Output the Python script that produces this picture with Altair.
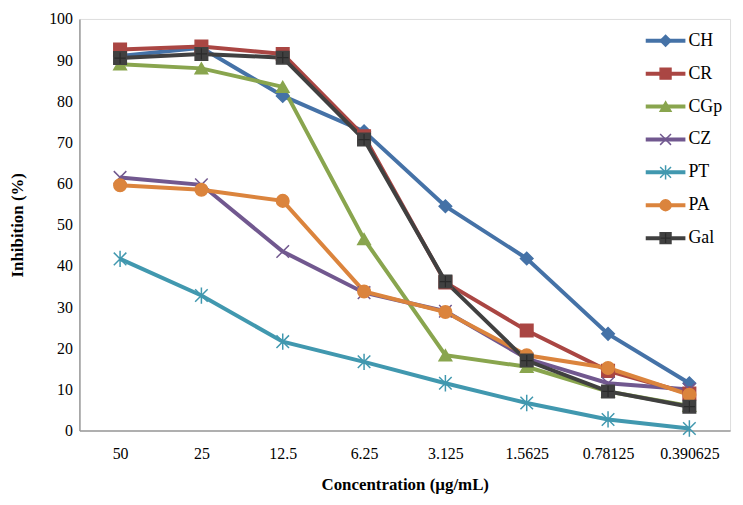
import altair as alt
import pandas as pd

concentrations = ["50", "25", "12.5", "6.25", "3.125", "1.5625", "0.78125", "0.390625"]
series_names = ["CH", "CR", "CGp", "CZ", "PT", "PA", "Gal"]
CH = [91.0, 93.0, 81.3, 72.7, 54.5, 41.8, 23.5, 11.5]
CR = [92.6, 93.3, 91.5, 71.5, 36.0, 24.3, 14.5, 9.0]
CGp = [89.0, 88.0, 83.5, 46.5, 18.3, 15.5, 9.5, 6.0]
CZ = [61.5, 59.7, 43.5, 33.5, 29.0, 17.5, 11.5, 10.0]
PT = [41.7, 32.8, 21.6, 16.7, 11.5, 6.7, 2.7, 0.5]
PA = [59.6, 58.5, 55.8, 33.8, 28.8, 18.3, 15.2, 8.7]
Gal = [90.5, 91.5, 90.6, 70.7, 36.2, 17.0, 9.5, 5.8]

colors = ["#4572A7", "#AA4643", "#89A54E", "#71588F", "#4198AF", "#DB843D", "#404040"]
shapes = ["diamond", "square", "triangle-up",
          "M-1,-1L1,1M-1,1L1,-1",
          "M-1,-1L1,1M-1,1L1,-1M0,-1.3L0,1.3",
          "circle", "square"]

values = dict(CH=CH, CR=CR, CGp=CGp, CZ=CZ, PT=PT, PA=PA, Gal=Gal)
rows = []
for s in series_names:
    for c, v in zip(concentrations, values[s]):
        rows.append({"series": s, "conc": c, "value": v})
df = pd.DataFrame(rows)
leg = pd.DataFrame({"series": series_names})

FONT = "'Liberation Serif', 'Times New Roman', serif"
color_scale = alt.Scale(domain=series_names, range=colors)
shape_scale = alt.Scale(domain=series_names, range=shapes)

x = alt.X("conc:N", sort=concentrations,
          scale=alt.Scale(type="point", padding=0.5),
          axis=alt.Axis(title="Concentration (µg/mL)", labelAngle=0, ticks=False,
                        domainColor="#9a9a9a", domainWidth=1.5, labelPadding=15,
                        titlePadding=15, labelFontSize=16, titleFontSize=17,
                        labelFont=FONT, titleFont=FONT, labelColor="black",
                        titleColor="black", titleFontWeight="bold", grid=False))
y = alt.Y("value:Q", scale=alt.Scale(domain=[0, 100], nice=False),
          axis=alt.Axis(title="Inhibition (%)", values=list(range(0, 101, 10)), ticks=False,
                        domainColor="#9a9a9a", domainWidth=1.5, labelPadding=7,
                        titlePadding=22, labelFontSize=16, titleFontSize=17,
                        labelFont=FONT, titleFont=FONT, labelColor="black",
                        titleColor="black", titleFontWeight="bold", grid=False))

base = alt.Chart(df)
lines = base.mark_line(strokeWidth=4).encode(
    x=x, y=y,
    color=alt.Color("series:N", scale=color_scale, legend=None),
    detail="series:N",
)
points = base.mark_point(filled=True, size=160, strokeWidth=1.5, opacity=1).encode(
    x=x, y=y,
    fill=alt.Fill("series:N", scale=color_scale, legend=None),
    stroke=alt.Stroke("series:N", scale=color_scale, legend=None),
    shape=alt.Shape("series:N", scale=shape_scale, legend=None),
)
gal_plus = alt.Chart(df[df.series == "Gal"]).mark_point(
    shape="M-1,0L1,0M0,-1L0,1", size=130, stroke="#222222", strokeWidth=1.2, filled=False
).encode(x=x, y=y)

ly = alt.Y("series:N", scale=alt.Scale(type="point", domain=series_names, range=[22, 221], padding=0),
           axis=None)
leg_base = alt.Chart(leg)
leg_lines = leg_base.mark_rule(strokeWidth=4).encode(
    y=ly, x=alt.value(571), x2=alt.value(611),
    color=alt.Color("series:N", scale=color_scale, legend=None),
)
leg_points = leg_base.mark_point(filled=True, size=120, strokeWidth=1.5, opacity=1).encode(
    y=ly, x=alt.value(591),
    fill=alt.Fill("series:N", scale=color_scale, legend=None),
    stroke=alt.Stroke("series:N", scale=color_scale, legend=None),
    shape=alt.Shape("series:N", scale=shape_scale, legend=None),
)
leg_plus = alt.Chart(leg[leg.series == "Gal"]).mark_point(
    shape="M-1,0L1,0M0,-1L0,1", size=100, stroke="#222222", strokeWidth=1.2, filled=False
).encode(y=ly, x=alt.value(591))
leg_text = leg_base.mark_text(align="left", baseline="middle", font=FONT, fontSize=18,
                              color="black", dx=0).encode(
    y=ly, x=alt.value(614), text="series:N")

data_layer = alt.layer(lines, points, gal_plus)
legend_layer = alt.layer(leg_lines, leg_points, leg_plus, leg_text)

chart = alt.layer(data_layer, legend_layer).resolve_scale(
    y="independent"
).properties(
    width=656, height=415,
    autosize=alt.AutoSizeParams(type="none"),
    padding={"left": 72, "top": 9, "right": 5, "bottom": 72},
).configure_view(stroke=None).configure(background="white")

chart.save("out.html", embed_options={"renderer": "svg", "actions": False})
